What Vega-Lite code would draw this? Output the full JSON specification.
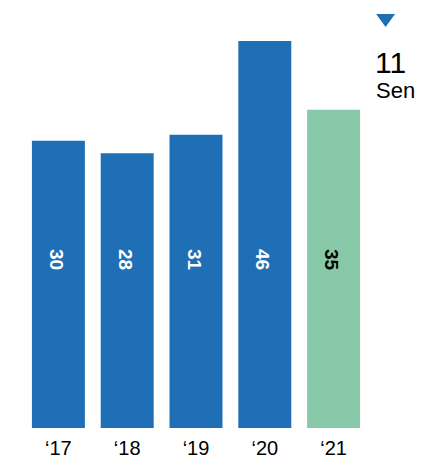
{
  "$schema": "https://vega.github.io/schema/vega-lite/v6.json",
  "width": 344,
  "height": 387,
  "autosize": {"type": "none"},
  "padding": {"left": 24, "top": 41, "right": 53, "bottom": 29},
  "background": "white",
  "config": {"view": {"stroke": null}, "font": "Liberation Sans"},
  "datasets": {
    "bars": [
      {"year": "‘17", "value": 30, "group": "past"},
      {"year": "‘18", "value": 28, "group": "past"},
      {"year": "‘19", "value": 31, "group": "past"},
      {"year": "‘20", "value": 46, "group": "past"},
      {"year": "‘21", "value": 35, "group": "current"}
    ],
    "note": [
      {"year": "‘21", "change": "11", "unit": "Sen"}
    ]
  },
  "layer": [
    {
      "data": {"name": "bars"},
      "mark": {"type": "bar"},
      "encoding": {
        "x": {
          "field": "year", "type": "nominal", "sort": null,
          "scale": {"paddingInner": 0.23, "paddingOuter": 0.115},
          "axis": {"title": null, "domain": false, "ticks": false, "labelAngle": 0,
                   "labelFontSize": 20, "labelColor": "#000", "labelFont": "Liberation Sans",
                   "labelPadding": 10}
        },
        "y": {"field": "value", "type": "quantitative",
              "scale": {"domain": [-16, 46], "nice": false, "zero": false}, "axis": null},
        "y2": {"datum": -16},
        "color": {"field": "group", "type": "nominal",
                  "scale": {"domain": ["past", "current"], "range": ["#1f6fb7", "#86c8a7"]},
                  "legend": null}
      }
    },
    {
      "data": {"name": "bars"},
      "mark": {"type": "text", "angle": 90, "fontWeight": "bold", "fontSize": 19,
               "align": "center", "baseline": "middle", "dy": 2.5, "font": "Liberation Sans"},
      "encoding": {
        "x": {"field": "year", "type": "nominal", "sort": null},
        "y": {"datum": 11},
        "text": {"field": "value", "type": "quantitative"},
        "color": {"condition": {"test": "datum.group === 'current'", "value": "#000000"}, "value": "#ffffff"}
      }
    },
    {
      "data": {"name": "note"},
      "mark": {"type": "point", "shape": "M-1,-0.68L1,-0.68L0,0.68Z", "size": 361,
               "filled": true, "color": "#1f6fb7", "opacity": 1, "xOffset": 52, "yOffset": -20.5},
      "encoding": {
        "x": {"field": "year", "type": "nominal"},
        "y": {"datum": 46}
      }
    },
    {
      "data": {"name": "note"},
      "mark": {"type": "text", "align": "left", "baseline": "alphabetic", "fontSize": 30,
               "color": "#000", "dx": 41.5, "dy": 31.7, "font": "Liberation Sans"},
      "encoding": {
        "x": {"field": "year", "type": "nominal"},
        "y": {"datum": 46},
        "text": {"field": "change"}
      }
    },
    {
      "data": {"name": "note"},
      "mark": {"type": "text", "align": "left", "baseline": "alphabetic", "fontSize": 22,
               "color": "#000", "dx": 42.5, "dy": 57.3, "font": "Liberation Sans"},
      "encoding": {
        "x": {"field": "year", "type": "nominal"},
        "y": {"datum": 46},
        "text": {"field": "unit"}
      }
    }
  ]
}
